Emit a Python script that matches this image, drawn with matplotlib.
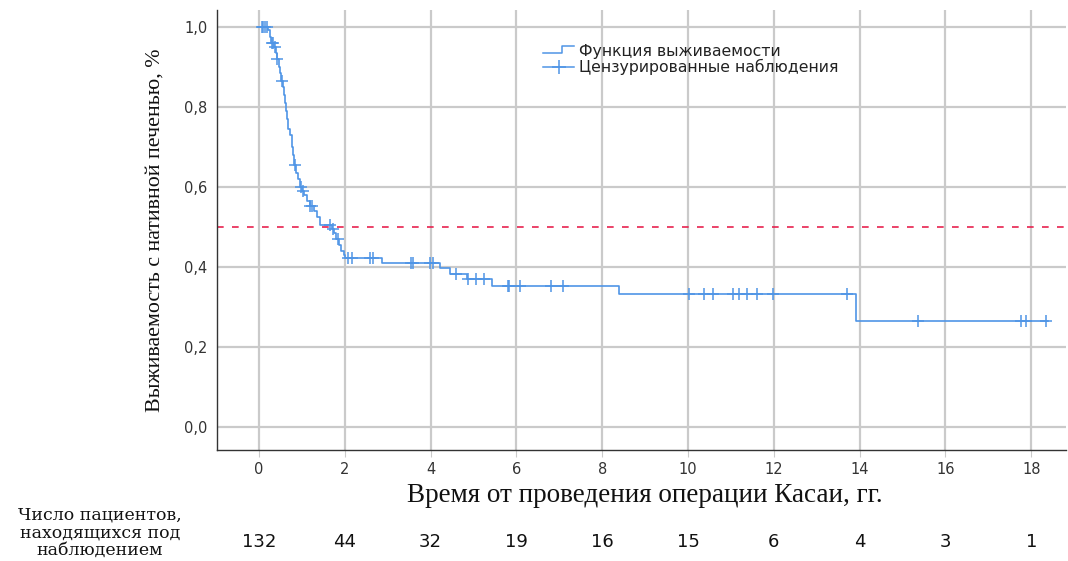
import numpy as np
import matplotlib
matplotlib.use("Agg")
import matplotlib.pyplot as plt
from matplotlib.legend_handler import HandlerBase
from matplotlib.lines import Line2D
import matplotlib.transforms as mtransforms

plt.rcParams["font.family"] = ["DejaVu Sans"]

# ---- data ----
step_times = [0.0, 0.20, 0.25, 0.27, 0.35, 0.40, 0.43, 0.46, 0.49, 0.52, 0.55, 0.58,
              0.61, 0.63, 0.65, 0.67, 0.72, 0.76, 0.79, 0.82, 0.85, 0.90, 0.95, 1.00,
              1.05, 1.12, 1.18, 1.28, 1.35, 1.42, 1.70, 1.75, 1.80, 1.86, 1.92, 1.97,
              2.00, 2.87, 4.22, 4.45, 4.85, 5.43, 8.40, 13.92, 18.40]
step_surv = [1.000, 0.992, 0.975, 0.960, 0.950, 0.935, 0.920, 0.900, 0.885, 0.865, 0.850, 0.830,
             0.810, 0.790, 0.770, 0.745, 0.730, 0.700, 0.680, 0.655, 0.635, 0.620, 0.600, 0.590,
             0.580, 0.565, 0.552, 0.540, 0.525, 0.505, 0.495, 0.485, 0.470, 0.455, 0.440, 0.430,
             0.4225, 0.410, 0.3975, 0.383, 0.370, 0.352, 0.332, 0.265, 0.265]
censor_times = [0.06, 0.10, 0.14, 0.18, 0.30, 0.33, 0.37, 0.43, 0.53, 0.84, 0.98, 1.02,
                1.18, 1.23, 1.65, 1.72, 1.84, 2.08, 2.17, 2.59, 2.66, 3.55, 3.58, 3.98,
                4.05, 4.60, 4.88, 5.05, 5.25, 5.80, 5.83, 6.08, 6.80, 7.09, 10.02, 10.37,
                10.58, 11.05, 11.19, 11.37, 11.60, 11.98, 13.70, 15.36, 17.76, 17.88, 18.34]
median_level = 0.5
x_ticks = [0, 2, 4, 6, 8, 10, 12, 14, 16, 18]
y_ticks = [0.0, 0.2, 0.4, 0.6, 0.8, 1.0]
y_tick_labels = ["0,0", "0,2", "0,4", "0,6", "0,8", "1,0"]
at_risk = [132, 44, 32, 19, 16, 15, 6, 4, 3, 1]

legend_labels = ["Функция выживаемости", "Цензурированные наблюдения"]
x_label = "Время от проведения операции Касаи, гг."
y_label = "Выживаемость с нативной печенью, %"
risk_label = "Число пациентов,\nнаходящихся под\nнаблюдением"

blue = "#4f95e6"

fig = plt.figure(figsize=(10.68, 5.61), dpi=100)
ax = fig.add_axes([217 / 1068, 111 / 561, 849 / 1068, 440 / 561])

# grid
for xt in x_ticks:
    ax.axvline(xt, color="#cacaca", lw=1.6, zorder=0)
for yt in y_ticks:
    ax.axhline(yt, color="#cacaca", lw=1.6, zorder=0)

ax.axhline(median_level, color="#e8234f", lw=1.2, ls=(0, (4, 5)), zorder=1)

ax.step(step_times, step_surv, where="post", color=blue, lw=1.2, zorder=3)

st = np.array(step_times)
ss = np.array(step_surv)
ct = np.array(censor_times)
idx = np.searchsorted(st, ct, side="right") - 1
ax.plot(ct, ss[idx], ls="none", marker="+", ms=9, mew=1.1, color=blue, zorder=4)

ax.set_xlim(-0.98, 18.81)
ax.set_ylim(-0.0575, 1.0425)
ax.set_xticks(x_ticks)
ax.set_xticklabels([str(v) for v in x_ticks])
ax.set_yticks(y_ticks)
ax.set_yticklabels(y_tick_labels)
ax.tick_params(axis="y", length=0, pad=7, labelsize=10.5, labelcolor="#333333")
ax.tick_params(axis="x", length=5, color="#cacaca", pad=4, labelsize=10.5, labelcolor="#333333")
for s in ["top", "right"]:
    ax.spines[s].set_visible(False)
for s in ["left", "bottom"]:
    ax.spines[s].set_color("#333333")
    ax.spines[s].set_linewidth(1.0)


class StepHandler(HandlerBase):
    def create_artists(self, legend, orig_handle, xdescent, ydescent, width, height, fontsize, trans):
        x0, x1 = -xdescent, -xdescent + width
        ylo = -ydescent + height * 0.25
        yhi = -ydescent + height * 0.9
        xm = x0 + width * 0.6
        line = Line2D([x0, xm, xm, x1], [ylo, ylo, yhi, yhi], color=blue, lw=1.1, transform=trans)
        return [line]


h1 = Line2D([], [], color=blue, lw=1.1)
h2 = Line2D([], [], color=blue, lw=1.1, marker="+", ms=10, mew=1.1)
leg = ax.legend([h1, h2], legend_labels, handler_map={h1: StepHandler()},
                loc="upper left", bbox_to_anchor=((532 - 217) / 849, (561 - 33 - 111) / 440),
                bbox_transform=ax.transAxes, frameon=False, fontsize=11.3,
                handlelength=2.0, handletextpad=0.3, labelspacing=0.02, borderpad=0.2)
for t in leg.get_texts():
    t.set_color("#222222")

fig.text(645 / 1068, 1 - 495 / 561, x_label, ha="center", va="center",
         family="Liberation Serif", fontsize=19.5, color="#111111")
fig.text(155 / 1068, 1 - 230 / 561, y_label, ha="center", va="center", rotation=90,
         family="Liberation Serif", fontsize=15.8, color="#111111")
fig.text(100 / 1068, 1 - 533 / 561, risk_label, ha="center", va="center",
         family="DejaVu Serif", fontsize=12.5, color="#111111", linespacing=1.05)

trans = mtransforms.blended_transform_factory(ax.transData, fig.transFigure)
for xv, n in zip(x_ticks, at_risk):
    ax.text(xv, 1 - 542 / 561, str(n), transform=trans, ha="center", va="center",
            fontsize=13, color="#111111", clip_on=False)

fig.savefig("out.png", dpi=100)
